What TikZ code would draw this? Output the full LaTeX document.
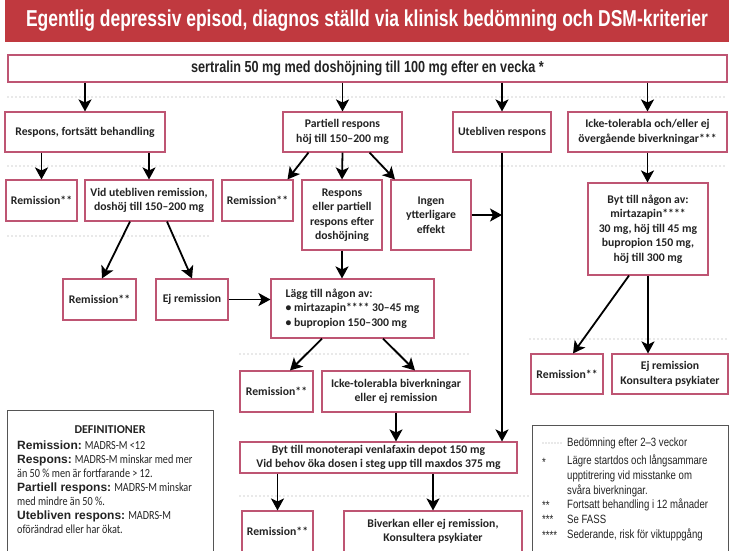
\documentclass[tikz,border=0pt]{standalone}
\usepackage{fontspec}
\setmainfont{Carlito}
\newfontfamily\titlefont[FakeStretch=0.76]{Liberation Sans}
\newfontfamily\sertfont[FakeStretch=0.79]{Liberation Sans}
\newfontfamily\condfont[FakeStretch=0.8]{Liberation Sans}
\newfontfamily\narrowfont[FakeStretch=0.82]{Carlito}
\newfontfamily\labelfont{Liberation Sans}
\usetikzlibrary{arrows.meta}
\definecolor{titlered}{RGB}{192,57,63}
\definecolor{boxc}{RGB}{190,85,115}
\definecolor{txt}{RGB}{35,35,35}
\definecolor{dotc}{RGB}{160,160,160}
\definecolor{framec}{RGB}{85,85,85}
\newcommand{\deflabel}[1]{{\labelfont\fontsize{12}{14}\selectfont\bfseries #1}}
\begin{document}
\begin{tikzpicture}[x=1pt,y=-1pt,
  box/.style={draw=boxc, line width=1.1pt, fill=white, align=center, text=txt,
    font=\fontsize{11.7}{14.5}\selectfont\bfseries, inner sep=1pt},
  arr/.style={line width=1.8pt, -{Stealth[length=12pt,width=13pt,inset=3pt]}},
  sep/.style={dotc, line width=1.4pt, line cap=round, dash pattern=on 0pt off 4pt},
  frame/.style={draw=framec, line width=1pt, fill=white},
  deftxt/.style={text=txt, font=\narrowfont\fontsize{12.4}{14}\selectfont},
  legtxt/.style={text=txt, font=\condfont\fontsize{12}{15}\selectfont, inner sep=0pt}
  ]
\useasboundingbox (0,0) rectangle (735,550);
\clip (0,0) rectangle (735,550);
\fill[white] (0,0) rectangle (735,550);

% separators
\draw[sep] (8,97) -- (727,97);
\draw[sep] (8,166) -- (727,166);
\draw[sep] (8,236) -- (210,236);
\draw[sep] (240,354) -- (468,354);
\draw[sep] (530,339) -- (727,339);
\draw[sep] (240,496) -- (528,496);

% title
\node[fill=titlered, minimum width=724pt, minimum height=42pt, inner sep=0pt, text=white,
  font=\titlefont\fontsize{23}{24}\selectfont\bfseries] (title) at (367,21)
  {Egentlig depressiv episod, diagnos ställd via klinisk bedömning och DSM-kriterier};

\node[box, minimum width=719pt, minimum height=27pt, font=\sertfont\fontsize{16}{18}\selectfont\bfseries] (sert) at (367.5,68.5)
  {sertralin 50 mg med doshöjning till 100 mg efter en vecka *};

% row 2
\node[box, minimum width=160pt, minimum height=40pt] (resp) at (85,132) {Respons, fortsätt behandling};
\node[box, minimum width=119pt, minimum height=40pt] (part) at (342.5,132) {Partiell respons\\höj till 150–200 mg};
\node[box, minimum width=98pt, minimum height=40pt] (uteb) at (502,132) {Utebliven respons};
\node[box, minimum width=159pt, minimum height=40pt] (icke1) at (647.5,132) {Icke-tolerabla och/eller ej\\övergående biverkningar***};

% row 3
\node[box, minimum width=71pt, minimum height=41pt] (rem1) at (41.5,200.5) {Remission**};
\node[box, minimum width=128pt, minimum height=41pt] (vid) at (149,200.5) {Vid utebliven remission,\\doshöj till 150–200 mg};
\node[box, minimum width=71pt, minimum height=41pt] (rem2) at (257.5,200.5) {Remission**};
\node[box, minimum width=80pt, minimum height=70pt] (respell) at (342,215) {Respons\\eller partiell\\respons efter\\doshöjning};
\node[box, minimum width=80pt, minimum height=70pt] (ingen) at (431,215) {Ingen\\ytterligare\\effekt};
\node[box, minimum width=120pt, minimum height=92pt] (byt) at (648,229) {Byt till någon av:\\mirtazapin****\\30 mg, höj till 45 mg\\bupropion 150 mg,\\höj till 300 mg};

% row 4
\node[box, minimum width=73pt, minimum height=41pt] (rem3) at (99.5,299.5) {Remission**};
\node[box, minimum width=72pt, minimum height=41pt] (ejrem) at (192,299.5) {Ej remission};
\node[box, minimum width=163pt, minimum height=59pt, align=left] (lagg) at (352.5,308.5) {Lägg till någon av:\\• mirtazapin**** 30–45 mg\\• bupropion 150–300 mg};

% row 5
\node[box, minimum width=73pt, minimum height=41pt] (rem4) at (276.5,391.5) {Remission**};
\node[box, minimum width=148pt, minimum height=41pt] (icke2) at (396,391.5) {Icke-tolerabla biverkningar\\eller ej remission};
\node[box, minimum width=72pt, minimum height=40pt] (rem5) at (567,374) {Remission**};
\node[box, minimum width=116pt, minimum height=40pt] (ejkons) at (670,374) {Ej remission\\Konsultera psykiater};

% row 6
\node[box, minimum width=277pt, minimum height=31pt] (venla) at (378.5,457.5) {Byt till monoterapi venlafaxin depot 150 mg\\Vid behov öka dosen i steg upp till maxdos 375 mg};
\node[box, minimum width=71pt, minimum height=41pt] (rem6) at (277.5,531.5) {Remission**};
\node[box, minimum width=178pt, minimum height=41pt] (biverk) at (433,531.5) {Biverkan eller ej remission,\\Konsultera psykiater};

% arrows
\draw[arr] (sert.south -| resp.north) -- (resp.north);
\draw[arr] (sert.south -| part.north) -- (part.north);
\draw[arr] (sert.south -| uteb.north) -- (uteb.north);
\draw[arr] (sert.south -| icke1.north) -- (icke1.north);
\draw[arr] (resp.south -| rem1.north) -- (rem1.north);
\draw[arr] (resp.south -| vid.north) -- (vid.north);
\draw[arr] ([xshift=-34pt]part.south) -- ([xshift=30pt]rem2.north);
\draw[arr] (part.south) -- (respell.north);
\draw[arr] ([xshift=27pt]part.south) -- ([xshift=-36pt]ingen.north);
\draw[arr] (icke1.south) -- (icke1.south |- byt.north);
\draw[arr] (uteb.south) -- (uteb.south |- venla.north);
\draw[arr] (ingen.east) -- (ingen.east -| uteb.south);
\draw[arr] ([xshift=-19pt]vid.south) -- ([xshift=2.5pt]rem3.north);
\draw[arr] ([xshift=18pt]vid.south) -- (ejrem.north);
\draw[arr] (ejrem.east) -- (ejrem.east -| lagg.west);
\draw[arr] (respell.south) -- (respell.south |- lagg.north);
\draw[arr] ([xshift=-30.5pt]lagg.south) -- ([xshift=13.5pt]rem4.north);
\draw[arr] ([xshift=30.5pt]lagg.south) -- ([xshift=19pt]icke2.north);
\draw[arr] ([xshift=-19pt]byt.south) -- ([xshift=6pt]rem5.north);
\draw[arr] (byt.south) -- (byt.south |- ejkons.north);
\draw[arr] (icke2.south) -- (icke2.south |- venla.north);
\draw[arr] (venla.south -| rem6.north) -- (rem6.north);
\draw[arr] (venla.south -| biverk.north) -- (biverk.north);

% definitions box
\node[frame, minimum width=206pt, minimum height=150pt, inner sep=0pt] (defs) at (110,485) {};
\node[anchor=north, text=txt, font=\fontsize{12}{13}\selectfont\bfseries, inner sep=0pt] (deftitle) at (110,425) {DEFINITIONER};
\node[deftxt, anchor=north west, align=left, inner sep=0pt] (deftext) at (17,441)
  {\deflabel{Remission:} MADRS-M <12\\
   \deflabel{Respons:} MADRS-M minskar med mer\\
   än 50 \% men är fortfarande > 12.\\
   \deflabel{Partiell respons:} MADRS-M minskar\\
   med mindre än 50 \%.\\
   \deflabel{Utebliven respons:} MADRS-M\\
   oförändrad eller har ökat.};

% legend box
\node[frame, minimum width=196pt, minimum height=135pt, inner sep=0pt] (legend) at (630,492.5) {};
\draw[sep, line width=1.2pt, dash pattern=on 0pt off 3pt] (543,443) -- (563,443);
\node[legtxt, anchor=west] (mk1) at (542,462) {*};
\node[legtxt, anchor=west] (mk2) at (542,505) {**};
\node[legtxt, anchor=west] (mk3) at (542,519) {***};
\node[legtxt, anchor=west] (mk4) at (542,535) {****};
\node[legtxt, anchor=west] (lg1) at (567,443) {Bedömning efter 2–3 veckor};
\node[legtxt, anchor=north west, align=left] (lg2) at (567,455) {Lägre startdos och långsammare\\upptitrering vid misstanke om\\svåra biverkningar.};
\node[legtxt, anchor=west] (lg3) at (567,505) {Fortsatt behandling i 12 månader};
\node[legtxt, anchor=west] (lg4) at (567,519) {Se FASS};
\node[legtxt, anchor=west] (lg5) at (567,535) {Sederande, risk för viktuppgång};
\end{tikzpicture}
\end{document}
